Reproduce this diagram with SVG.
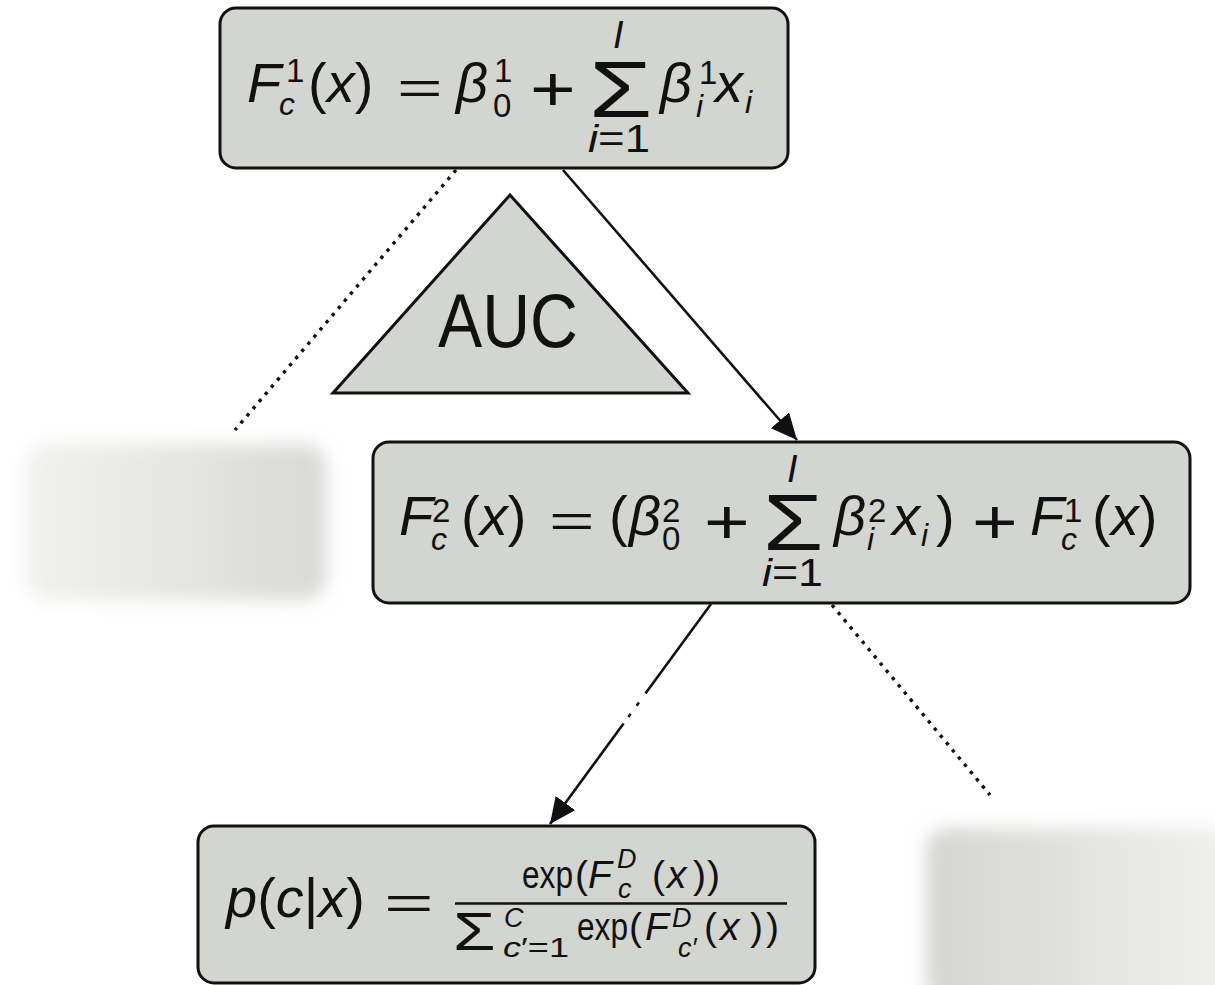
<svg xmlns="http://www.w3.org/2000/svg" width="1215" height="985" viewBox="0 0 1215 985">
<style>
.box{fill:#d3d5d0;stroke:#111;stroke-width:3}
text{font-family:"Liberation Sans","DejaVu Sans",sans-serif;fill:#111}
.m{font-size:56px}
.it{font-style:italic}
.sp{font-size:33px}
.sb{font-size:32px}
.lim{font-size:38px}
.n{font-size:39px}
.t{font-size:27px}
.con{fill:none;stroke:#111;stroke-width:2.6}
.dot{stroke-width:3.4;stroke-dasharray:3.4 6}
</style>
<defs>
<marker id="ah" markerUnits="userSpaceOnUse" markerWidth="26" markerHeight="24" viewBox="0 0 26 24" refX="26" refY="12" orient="auto">
<path d="M0,0 L26,12 L0,24 z" fill="#111"/>
</marker>
<filter id="blur" x="-20%" y="-30%" width="140%" height="160%"><feGaussianBlur stdDeviation="9"/></filter>
<linearGradient id="gl" x1="0" x2="1" y1="0" y2="0"><stop offset="0" stop-color="#f1f1ef"/><stop offset="1" stop-color="#d8d9d6"/></linearGradient>
<linearGradient id="gr" x1="0" x2="1" y1="0" y2="0"><stop offset="0" stop-color="#d4d5d2"/><stop offset="1" stop-color="#f0f0ef"/></linearGradient>
</defs>

<g id="blurred-left"><rect x="26" y="444" width="300" height="156" rx="22" fill="url(#gl)" filter="url(#blur)"/></g>
<g id="blurred-right"><rect x="926" y="828" width="310" height="176" rx="22" fill="url(#gr)" filter="url(#blur)"/></g>

<g id="connectors">
<line class="con dot" x1="456" y1="170" x2="235" y2="430"/>
<line class="con" x1="563" y1="170" x2="797" y2="440" marker-end="url(#ah)"/>
<line class="con" x1="711" y1="604" x2="550" y2="824" stroke-width="2.8" stroke-dasharray="111 11 4 10 4 8 300" marker-end="url(#ah)"/>
<line class="con dot" x1="832" y1="605" x2="990" y2="795"/>
</g>

<g id="auc">
<polygon points="510,195 333,393 688,393" fill="#d3d5d0" stroke="#111" stroke-width="3"/>
<text x="508" y="347" text-anchor="middle" font-family="Open Sans, Liberation Sans, sans-serif" font-size="76" textLength="140" lengthAdjust="spacingAndGlyphs">AUC</text>
</g>

<g id="node1">
<rect class="box" x="220" y="8" width="568" height="160" rx="16"/>
<text class="m it" x="247" y="102">F</text>
<text class="sp" x="286" y="82">1</text>
<text class="sb it" x="279" y="115">c</text>
<text class="m" y="102"><tspan x="308">(</tspan><tspan class="it">x</tspan><tspan>)</tspan></text>
<text font-size="46" transform="translate(397,104) scale(1.7,1)">=</text>
<text class="m it" x="456" y="102">β</text>
<text class="sp" x="494" y="82">1</text>
<text class="sp" x="493" y="117">0</text>
<text font-size="58" transform="translate(530,111) scale(1.35,1.1)">+</text>
<text class="lim it" x="613" y="48">I</text>
<text font-size="80" transform="translate(589,117) scale(1.28,1)">Σ</text>
<text class="lim" x="588" y="152" textLength="62" lengthAdjust="spacingAndGlyphs"><tspan class="it">i</tspan>=1</text>
<text class="m it" x="660" y="102">β</text>
<text class="sp" x="699" y="84">1</text>
<text class="sb it" x="696" y="117">i</text>
<text class="m it" x="715" y="102">x</text>
<text class="sb it" x="745" y="113">i</text>
</g>

<g id="node2">
<rect class="box" x="373" y="442" width="817" height="161" rx="16"/>
<text class="m it" x="399" y="535">F</text>
<text class="sp" x="432" y="522">2</text>
<text class="sb it" x="431" y="550">c</text>
<text class="m" y="535"><tspan x="461">(</tspan><tspan class="it">x</tspan><tspan>)</tspan></text>
<text font-size="46" transform="translate(549,537) scale(1.7,1)">=</text>
<text class="m" x="609" y="535">(</text>
<text class="m it" x="629" y="535">β</text>
<text class="sp" x="662" y="522">2</text>
<text class="sp" x="662" y="550">0</text>
<text font-size="58" transform="translate(704,544) scale(1.35,1.1)">+</text>
<text class="lim it" x="787" y="482">I</text>
<text font-size="80" transform="translate(763,550) scale(1.22,1)">Σ</text>
<text class="lim" x="762" y="586" textLength="61" lengthAdjust="spacingAndGlyphs"><tspan class="it">i</tspan>=1</text>
<text class="m it" x="834" y="535">β</text>
<text class="sp" x="868" y="522">2</text>
<text class="sb it" x="867" y="550">i</text>
<text class="m it" x="892" y="535">x</text>
<text class="sb it" x="921" y="546">i</text>
<text class="m" x="936" y="535">)</text>
<text font-size="58" transform="translate(972,544) scale(1.35,1.1)">+</text>
<text class="m it" x="1030" y="535">F</text>
<text class="sp" x="1064" y="522">1</text>
<text class="sb it" x="1061" y="550">c</text>
<text class="m" y="535"><tspan x="1092">(</tspan><tspan class="it">x</tspan><tspan>)</tspan></text>
</g>

<g id="node3">
<rect class="box" x="198" y="826" width="617" height="157" rx="16"/>
<text class="m" y="917"><tspan class="it" x="226">p</tspan><tspan>(</tspan><tspan class="it">c</tspan><tspan>|</tspan><tspan class="it">x</tspan><tspan>)</tspan></text>
<text font-size="46" transform="translate(384,919) scale(1.85,1)">=</text>
<line x1="455" y1="903.5" x2="787" y2="903.5" stroke="#111" stroke-width="2.6"/>
<text class="n" x="522" y="888" textLength="51" lengthAdjust="spacingAndGlyphs">exp</text>
<text class="n" x="575" y="888">(</text>
<text class="n it" x="588" y="888">F</text>
<text class="t it" x="617" y="868">D</text>
<text class="t it" x="618" y="898">c</text>
<text class="n" y="888"><tspan x="652">(</tspan><tspan class="it" x="667">x</tspan><tspan x="693">)</tspan><tspan x="707">)</tspan></text>
<text font-size="53" transform="translate(453,950) scale(1.3,1)">Σ</text>
<text class="t it" x="504" y="927">C</text>
<text class="t" x="503" y="957" textLength="66" lengthAdjust="spacingAndGlyphs"><tspan class="it">c</tspan>′=1</text>
<text class="n" x="577" y="940" textLength="51" lengthAdjust="spacingAndGlyphs">exp</text>
<text class="n" x="629" y="940">(</text>
<text class="n it" x="645" y="940">F</text>
<text class="t it" x="672" y="927">D</text>
<text class="t it" x="678" y="957">c′</text>
<text class="n" y="940"><tspan x="704">(</tspan><tspan class="it" x="720">x</tspan><tspan x="750">)</tspan><tspan x="766">)</tspan></text>
</g>
</svg>
